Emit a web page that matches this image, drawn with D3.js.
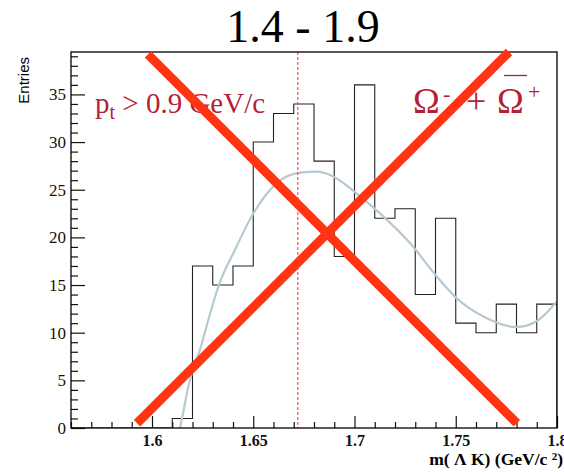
<!DOCTYPE html>
<html>
<head>
<meta charset="utf-8">
<script src="https://cdn.jsdelivr.net/npm/d3@7/dist/d3.min.js"></script>
<style>
  html, body { margin: 0; padding: 0; background: #fff; }
  svg { display: block; }
  .serif { font-family: "Liberation Serif", Tinos, "Times New Roman", Times, "DejaVu Serif", "Noto Serif", serif; }
  .sans { font-family: "Liberation Sans", Arial, Helvetica, sans-serif; }
</style>
</head>
<body>
<script>
// Invariant-mass histogram m(ΛK), bins of 10 MeV/c²
const binLowEdges = [1.56, 1.57, 1.58, 1.59, 1.60, 1.61, 1.62, 1.63, 1.64, 1.65, 1.66, 1.67,
                     1.68, 1.69, 1.70, 1.71, 1.72, 1.73, 1.74, 1.75, 1.76, 1.77, 1.78, 1.79];
const binWidth = 0.01;
const entries = [0, 0, 0, 0, 0, 1, 17, 15, 17, 30, 33, 34,
                 28, 18, 36, 22, 23, 14, 22, 11, 10, 13, 10, 13];

// Fitted function, sampled along the mass axis
const fitMass = [1.6138, 1.6150, 1.6183, 1.6237, 1.6283, 1.6330, 1.6410, 1.6500, 1.6616, 1.6731,
                 1.6813, 1.6895, 1.7011, 1.7142, 1.7274, 1.7406, 1.7505, 1.7636, 1.7800, 1.7899, 1.8000];
const fitValue = [0, 1.2, 4.7, 8.2, 11.7, 15.0, 18.7, 22.5, 25.7, 26.8,
                  26.9, 26.4, 24.6, 22.2, 19.4, 15.9, 13.6, 11.7, 10.6, 11.2, 13.3];

// Nominal Ω mass marker
const omegaMass = 1.672;

// Cross drawn over the plot: [mass, entries] end points of the two strokes
const crossStrokeA = [[1.5980, 39.2], [1.7802, 0.5]];
const crossStrokeB = [[1.5926, 0.5], [1.7763, 39.45]];

// Axes
const xDomain = [1.56, 1.8];
const yDomain = [0, 39.45];
const xMajorTicks = [1.6, 1.65, 1.7, 1.75, 1.8];
const xTickLabels = ["1.6", "1.65", "1.7", "1.75", "1.8"];
const yMajorTicks = [0, 5, 10, 15, 20, 25, 30, 35];
const yTickLabels = ["0", "5", "10", "15", "20", "25", "30", "35"];

const W = 564, H = 472;
const frame = { left: 71, right: 557, top: 52, bottom: 428 };

const svg = d3.select("body").append("svg")
  .attr("width", W).attr("height", H)
  .attr("viewBox", `0 0 ${W} ${H}`);

const x = d3.scaleLinear().domain(xDomain).range([frame.left, frame.right]);
const y = d3.scaleLinear().domain(yDomain).range([frame.bottom, frame.top]);

svg.append("defs").append("clipPath").attr("id", "plotClip")
  .append("rect")
  .attr("x", frame.left).attr("y", frame.top)
  .attr("width", frame.right - frame.left).attr("height", frame.bottom - frame.top);

// Title
svg.append("text")
  .attr("class", "serif")
  .attr("x", 303).attr("y", 42)
  .attr("text-anchor", "middle")
  .style("font-size", "46px")
  .text("1.4 - 1.9");

// Histogram outline (steps)
const stepPts = [];
stepPts.push([xDomain[0], 0]);
binLowEdges.forEach((lo, i) => {
  stepPts.push([lo, entries[i]]);
  stepPts.push([lo + binWidth, entries[i]]);
});
stepPts.push([xDomain[1], 0]);

svg.append("path")
  .datum(stepPts)
  .attr("clip-path", "url(#plotClip)")
  .attr("fill", "none")
  .attr("stroke", "#222")
  .attr("stroke-width", 1.1)
  .attr("d", d3.line().x(d => x(d[0])).y(d => y(d[1])));

// Fit curve
const fitPts = fitMass.map((m, i) => [m, fitValue[i]]);
svg.append("path")
  .datum(fitPts)
  .attr("clip-path", "url(#plotClip)")
  .attr("fill", "none")
  .attr("stroke", "#b9c9d2")
  .attr("stroke-width", 2.2)
  .attr("d", d3.line().curve(d3.curveMonotoneX).x(d => x(d[0])).y(d => y(d[1])));

// Ω mass dashed line
svg.append("line")
  .attr("x1", x(omegaMass)).attr("x2", x(omegaMass))
  .attr("y1", y(yDomain[1])).attr("y2", y(0))
  .attr("stroke", "#f5503c")
  .attr("stroke-width", 1.2)
  .attr("stroke-dasharray", "3,2");

// Axes: y (left, ticks pointing inward)
const gy = svg.append("g").attr("transform", `translate(${frame.left},0)`);
gy.call(d3.axisLeft(y).tickValues(yMajorTicks)
  .tickFormat((d, i) => yTickLabels[i])
  .tickSizeInner(-14).tickSizeOuter(0).tickPadding(5));
const yMinor = d3.range(0, 40, 1).filter(v => v % 5 !== 0);
gy.append("g").call(d3.axisLeft(y).tickValues(yMinor).tickFormat("")
  .tickSizeInner(-7).tickSizeOuter(0));
gy.attr("font-family", null).attr("font-size", null);
gy.selectAll("g").attr("font-family", null).attr("font-size", null);
gy.selectAll("text")
  .attr("class", "serif")
  .style("font-size", "17px").attr("fill", "#111");
gy.selectAll("line").attr("stroke", "#111").attr("stroke-width", 1.2);
gy.selectAll("path.domain").remove();

// Axes: x (bottom, ticks pointing inward)
const gx = svg.append("g").attr("transform", `translate(0,${frame.bottom})`);
gx.call(d3.axisBottom(x).tickValues(xMajorTicks)
  .tickFormat((d, i) => xTickLabels[i])
  .tickSizeInner(-12).tickSizeOuter(0).tickPadding(7));
const xMinor = binLowEdges.concat([1.8]).filter(v => !xMajorTicks.some(t => Math.abs(t - v) < 1e-6));
gx.append("g").call(d3.axisBottom(x).tickValues(xMinor).tickFormat("")
  .tickSizeInner(-6).tickSizeOuter(0));
gx.attr("font-family", null).attr("font-size", null);
gx.selectAll("g").attr("font-family", null).attr("font-size", null);
gx.selectAll("text")
  .attr("class", "serif")
  .style("font-size", "16px").style("font-weight", "bold").attr("fill", "#111");
gx.selectAll("line").attr("stroke", "#111").attr("stroke-width", 1.2);
gx.selectAll("path.domain").remove();

// Frame
svg.append("rect")
  .attr("x", frame.left).attr("y", frame.top)
  .attr("width", frame.right - frame.left).attr("height", frame.bottom - frame.top)
  .attr("fill", "none").attr("stroke", "#000").attr("stroke-width", 1.3);

// Axis titles
svg.append("text")
  .attr("class", "sans")
  .attr("transform", `translate(29,57) rotate(-90)`)
  .attr("text-anchor", "end")
  .style("font-size", "15px")
  .text("Entries");

const xt = svg.append("text")
  .attr("class", "serif")
  .attr("x", 563).attr("y", 465)
  .attr("text-anchor", "end")
  .style("font-size", "17.5px").style("font-weight", "bold");
xt.append("tspan").text("m( Λ K) (GeV/c ");
xt.append("tspan").attr("dy", -5).style("font-size", "11px").text("2");
xt.append("tspan").attr("dy", 5).text(")");

// Selection label
const red = "#b51f35";
const pt = svg.append("text")
  .attr("class", "serif")
  .attr("x", 95).attr("y", 113)
  .attr("fill", red)
  .style("font-size", "29px");
pt.append("tspan").text("p");
pt.append("tspan").attr("dy", 6).style("font-size", "20px").text("t");
pt.append("tspan").attr("dy", -6).text(" > 0.9 GeV/c");

// Particle label Ω⁻ + Ω̄⁺
const om = svg.append("text")
  .attr("class", "serif")
  .attr("y", 113)
  .attr("fill", red)
  .style("font-size", "36px");
om.append("tspan").attr("x", 413).text("Ω");
om.append("tspan").attr("x", 443).attr("y", 101).style("font-size", "22px").text("-");
om.append("tspan").attr("x", 466).attr("y", 113).text("+");
om.append("tspan").attr("x", 497).attr("y", 113).text("Ω");
om.append("tspan").attr("x", 528).attr("y", 99).style("font-size", "22px").text("+");
svg.append("line")
  .attr("x1", 504).attr("x2", 527)
  .attr("y1", 75.5).attr("y2", 75.5)
  .attr("stroke", red).attr("stroke-width", 1.3);

// Cross
[crossStrokeA, crossStrokeB].forEach(s => {
  svg.append("line")
    .attr("x1", x(s[0][0])).attr("y1", y(s[0][1]))
    .attr("x2", x(s[1][0])).attr("y2", y(s[1][1]))
    .attr("stroke", "#ff3412")
    .attr("stroke-width", 9)
    .attr("stroke-linecap", "butt");
});
</script>
</body>
</html>
